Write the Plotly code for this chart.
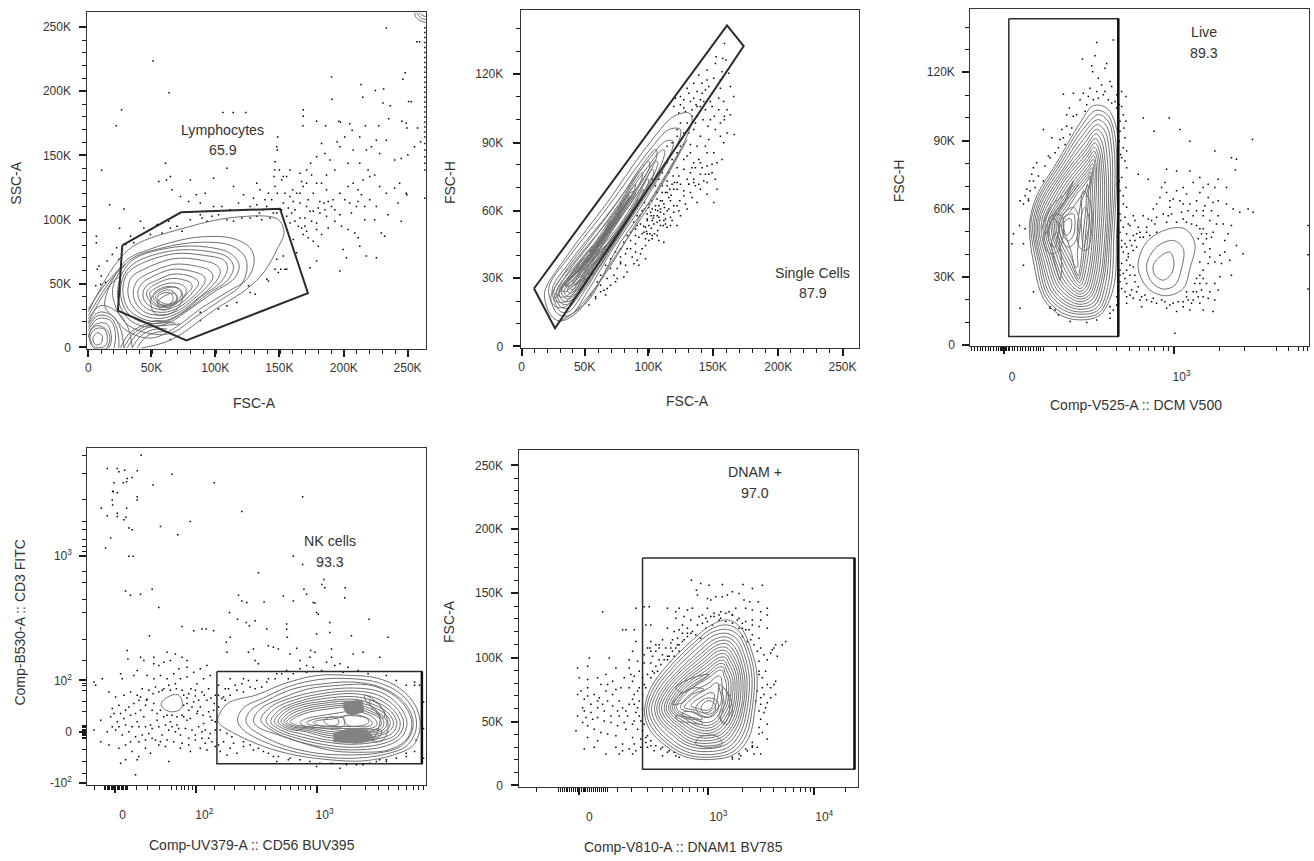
import plotly.graph_objects as go

# All data are in FlowJo style display channels (0-1024 on each axis).
# ---------- Panel 1 : FSC-A / SSC-A ----------
P1_XTICKS = [3, 193, 385, 578, 772, 964]
P1_XLABELS = ["0", "50K", "100K", "150K", "200K", "250K"]
P1_YTICKS = [4, 197, 389, 584, 779, 972]
P1_YLABELS = ["0", "50K", "100K", "150K", "200K", "250K"]
P1_GATE = [(105,312),(282,412),(580,423),(664,168),(298,25),(92,115),(105,312)]
P1_CONTOURS = [
 [(3,112),(82,252),(142,312),(282,362),(442,397),(572,392),(592,352),(572,302),(532,232),(482,182),(382,117),(252,27),(162,2)],
 [(112,262),(192,302),(332,337),(442,332),(492,302),(502,262),(482,212),(422,172),(342,122),(262,62),(192,32),(122,52),(82,92),(52,132),(112,262)],
 [(127,267),(227,305),(347,322),(437,310),(475,277),(480,237),(462,192),(402,147),(327,97),(252,47),(182,47),(122,72),(87,122),(77,187),(127,267)],
 [(142,272),(262,307),(362,307),(432,287),(457,252),(442,212),(382,172),(312,122),(242,77),(172,67),(122,92),(92,152),(102,222),(142,272)],
 [(147,262),(262,297),(357,295),(422,277),(440,247),(422,207),(362,165),(297,115),(232,80),(167,80),(122,107),(100,162),(110,222),(147,262)],
 [(152,252),(262,287),(352,282),(412,267),(422,242),(402,202),(342,157),(282,107),(222,82),(162,92),(122,122),(107,172),(117,222),(152,252)],
 [(170,240),(260,272),(340,268),(392,250),(400,228),(380,195),(330,150),(280,112),(225,92),(170,100),(135,130),(122,170),(132,215),(170,240)],
 [(185,228),(260,255),(325,250),(370,235),(378,215),(360,188),(320,150),(278,118),(228,102),(178,108),(148,135),(138,170),(150,205),(185,228)],
 [(190,215),(255,240),(310,235),(350,220),(355,205),(340,180),(310,150),(270,122),(230,110),(185,118),(160,140),(152,172),(165,198),(190,215)],
 [(205,205),(255,225),(300,222),(330,208),(335,195),(320,175),(298,150),(265,128),(232,118),(195,125),(172,145),(168,172),(180,192),(205,205)],
 [(205,195),(250,212),(290,208),(312,198),(315,185),(302,168),(285,150),(260,132),(232,124),(205,130),(185,148),(178,170),(190,185),(205,195)],
 [(200,180),(245,198),(280,195),(295,185),(298,172),(290,158),(270,140),(248,130),(225,128),(205,136),(192,150),(188,168),(200,180)],
 [(205,172),(240,188),(268,184),(282,175),(282,160),(270,145),(250,134),(228,132),(210,140),(198,155),(205,172)],
 [(212,165),(240,178),(258,172),(270,160),(268,148),(252,136),(232,136),(215,145),(205,155),(212,165)],
 [(210,155),(228,168),(250,168),(258,155),(255,142),(240,132),(222,132),(212,142),(210,155)],
 [(192,152),(232,182),(272,184),(287,162),(272,122),(237,102),(202,107),(192,152)],
 [(212,142),(237,162),(262,167),(270,147),(252,127),(232,117),(217,122),(212,142)],
 [(17,32),(32,49),(45,37),(42,17),(25,12),(17,32)],
 [(8,35),(25,60),(50,60),(60,35),(55,10),(25,4),(8,35)],
 [(3,35),(15,62),(35,70),(60,55),(68,30),(60,3)],
 [(5,45),(28,75),(58,75),(72,40),(65,5),(20,2),(5,45)],
 [(3,55),(30,90),(70,85),(85,40),(80,2)],
 [(3,65),(32,100),(72,92),(92,50),(95,3)],
 [(3,75),(35,110),(75,100),(100,60),(110,3)],
 [(3,90),(40,130),(85,115),(120,70),(135,3)],
 [(100,3),(125,45),(165,70),(205,85),(250,80)],
 [(110,3),(135,42),(175,68),(218,78),(265,78)],
 [(120,3),(145,40),(185,65),(230,70),(280,75)],
 [(135,3),(160,38),(198,58),(240,60)],
 [(150,3),(175,35),(210,50),(250,50)],
 [(3,100),(45,170),(85,225),(112,255)],
 [(3,80),(40,150),(75,200),(100,220)],
 [(3,120),(50,190),(95,240)],
 [(985,1016),(990,1000),(1005,990),(1019,985)],
 [(992,1016),(998,1005),(1008,997),(1019,994)],
 [(1000,1016),(1005,1009),(1019,1003)],
]
P1_DOTS = [(900,969),(957,834),(950,814),(735,821),(736,754),(824,798),(829,760),(867,780),(892,785),(890,742),(912,734),(907,695),(967,747),(975,746),(992,927),(1000,927),(198,869),(246,773),(103,722),(87,674),(43,539),(67,435),(110,422),(97,364),(27,340),(27,320),
(650,722),(650,702),(649,674),(690,687),(717,674),(757,687),(762,684),(790,680),(797,660),(837,674),(877,674),(947,687),(960,682),(962,667),(994,667),(408,714),(439,714),(477,714),
(573,640),(572,600),(570,610),(565,565),(564,540),(562,520),(578,540),(590,520),(610,540),(640,530),(645,505),(660,500),(672,560),(690,580),(705,620),(715,590),(730,570),(745,540),(760,610),(785,560),(800,600),(820,560),(845,540),(855,610),(880,590),(900,630),(925,570),(945,575),(965,585),(985,610),(1003,625),(820,640),(840,600),(870,630),(775,640),(752,625),
(235,560),(250,520),(238,510),(215,505),(255,480),(310,510),(280,460),(328,465),(355,470),(380,515),(420,545),(440,490),(470,465),(510,500),(500,455),(520,480),(545,470),(555,450),(565,490),(585,510),(600,520),(618,480),(630,470),(650,490),(665,450),(680,470),(700,445),(720,480),(735,430),(760,470),(785,490),(800,500),(815,480),(830,510),(850,520),(865,525),(880,490),(900,470),(925,485),(940,500),(960,470),(815,445),(825,465),(850,450),(870,430),(905,405),(935,440),(962,465),(795,410),(760,405),(745,420),(720,400),(712,440),(700,410),(690,380),(670,415),(655,395),(640,440),(620,445),(605,425),(590,440),(572,470),(535,450),(510,435),(490,430),(455,440),(430,420),(405,430),(380,430),(340,440),(305,445),
(600,400),(615,410),(625,420),(640,395),(655,370),(675,385),(690,360),(705,345),(725,365),(745,385),(765,370),(785,360),(805,350),(835,390),(865,390),(885,350),(945,385),(895,340),(770,300),(780,275),(815,335),(820,310),(840,280),(870,275),(760,235),(690,265),(670,245),(630,290),(620,330),(605,350),(590,280),(570,270),(565,240),(575,230),(582,240),(595,240),(600,240),(545,205),(540,210),(505,165),(490,170),(485,190),(450,140),(420,130),(395,120),(340,85),(250,28),(340,110),
(160,385),(170,365),(190,345),(210,375),(225,350),(245,385),(250,365),(270,370),(285,355),(310,390),(340,405),(345,395),(360,385),(375,400),(395,405),(420,390),(440,385),(465,395),(490,395),(510,400),(525,390),(550,395),(570,410),(610,380),(30,240),(35,250),(42,220),(60,265),(75,285),(95,270),(40,195),(25,190),(55,200),(88,305),(115,315),(140,320),(130,340),
(660,430),(680,415),(695,425),(640,470),(610,460),(595,470),(585,420),(560,410),(540,430),(530,420),(518,410),(625,385),(635,370),(650,345),(665,335),(680,325),(695,310),(660,355),(645,365),(715,420),(725,445),(740,450),(775,450),(790,440),(810,430),(835,430),(720,525),(705,500),(675,525),(690,500),(660,540)]
P1_EDGE = [(1016,540),(1016,560),(1016,580),(1016,600),(1016,620),(1016,640),(1016,655),(1016,670),(1016,685),(1016,700),(1016,715),(1016,730),(1016,745),(1016,760),(1016,775),(1016,790),(1016,805),(1016,820),(1016,835),(1016,850),(1016,865),(1016,880),(1016,895),(1016,910),(1016,925),(1016,940),(1016,955),(1016,970),(1016,455)]

# ---------- Panel 2 : FSC-A / FSC-H ----------
P2_XTICKS = [3, 192, 384, 577, 774, 967]
P2_XLABELS = ["0", "50K", "100K", "150K", "200K", "250K"]
P2_YTICKS = [5, 212, 415, 620, 828]
P2_YLABELS = ["0", "30K", "60K", "90K", "120K"]
P2_GATE = [(40,180),(620,975),(670,912),(103,60),(40,180)]
P2_CONTOURS = [
 [(75,180),(140,280),(260,440),(380,610),(460,700),(505,710),(515,695),(495,630),(400,460),(300,320),(230,190),(160,100),(115,82),(90,100),(72,150),(75,180)],
 [(85,185),(145,275),(265,430),(385,595),(445,660),(478,662),(480,640),(445,570),(370,440),(280,305),(200,170),(150,100),(115,100),(95,130),(85,185)],
 [(95,180),(155,270),(270,415),(385,570),(435,625),(458,625),(455,600),(420,530),(350,420),(265,290),(190,170),(145,110),(120,110),(102,140),(95,180)],
 [(100,175),(165,265),(275,400),(380,545),(420,595),(432,598),(428,570),(395,500),(330,395),(250,270),(180,165),(140,120),(120,125),(105,150),(100,175)],
 [(108,175),(175,262),(280,385),(370,515),(405,565),(412,562),(405,535),(370,465),(310,370),(235,255),(172,160),(140,132),(122,135),(110,155),(108,175)],
 [(115,172),(185,258),(285,375),(365,490),(395,540),(400,530),(385,500),(350,435),(295,350),(225,240),(168,160),(142,140),(125,145),(115,172)],
 [(122,172),(195,255),(290,362),(355,465),(382,512),(385,505),(368,470),(330,410),(280,332),(215,228),(165,165),(142,148),(130,155),(122,172)],
 [(130,172),(205,252),(290,350),(345,440),(368,480),(368,472),(350,440),(310,385),(265,312),(205,218),(162,168),(145,155),(135,160),(130,172)],
 [(140,175),(215,250),(285,335),(335,415),(352,450),(350,440),(330,405),(290,355),(250,295),(195,210),(160,172),(148,165),(140,175)],
 [(150,178),(220,240),(280,320),(325,390),(338,420),(335,412),(310,375),(270,330),(235,275),(185,205),(160,178),(150,178)],
 [(160,190),(225,230),(270,300),(310,365),(322,390),(315,380),(285,340),(250,305),(218,255),(175,205),(160,190)],
 [(175,200),(225,255),(275,325),(305,365),(300,360),(265,320),(228,280),(195,235),(175,200)],
 [(165,225),(215,280),(265,350),(320,430),(345,470),(330,470),(290,400),(250,345),(205,285),(170,245),(165,225)],
 [(135,185),(185,250),(240,330),(300,415),(330,460),(320,440),(280,375),(235,310),(185,235),(150,190),(135,185)],
 [(90,150),(130,225),(200,320),(290,440),(370,560),(405,600),(410,585),(365,490),(295,385),(225,275),(170,170),(135,125),(105,125),(90,150)],
 [(100,145),(140,225),(205,310),(285,420),(355,530),(385,565),(388,550),(345,470),(280,370),(215,265),(165,175),(135,140),(112,140),(100,145)],
 [(112,160),(150,225),(210,300),(280,405),(340,500),(365,530),(365,515),(325,445),(265,355),(205,255),(160,180),(135,155),(118,155),(112,160)],
 [(122,175),(160,230),(215,290),(275,390),(325,470),(345,495),(342,480),(305,420),(250,340),(195,245),(155,190),(135,170),(122,175)],
 [(132,190),(170,235),(220,290),(270,375),(310,445),(325,465),(320,450),(285,395),(238,325),(185,240),(155,205),(138,190),(132,190)],
 [(145,205),(180,245),(225,295),(265,360),(295,415),(305,435),(298,420),(265,370),(225,310),(178,240),(155,220),(145,205)],
 [(158,215),(190,255),(230,300),(260,345),(275,380),(265,360),(230,305),(190,250),(165,225),(158,215)],
 [(205,290),(240,335),(270,385),(262,365),(232,320),(205,290)],
 [(120,82),(200,140),(260,240),(320,330),(380,420),(440,520),(500,630)],
 [(160,105),(230,190),(290,280),(360,400),(410,480),(480,600)],
 [(175,240),(225,305),(280,380),(335,460)],
 [(210,260),(255,325),(300,395)],
 [(155,200),(205,270),(255,340),(300,400)],
 [(105,150),(160,235),(210,300)],
]
P2_DOTS = [(612,920),(587,880),(607,875),(617,870),(605,835),(625,830),(640,760),(560,840),(580,815),(565,790),(555,780),(575,770),(595,755),(610,745),(620,720),(630,705),(642,645),(612,700),(600,680),(582,700),(570,690),(550,745),(540,730),(527,735),(510,745),(490,750),(495,715),(480,735),(465,755),(515,700),(530,700),(548,690),(563,670),(585,660),(600,640),(612,690),(620,650),(565,630),(555,610),(540,640),(520,660),(505,650),(490,615),(510,590),(530,610),(560,590),(580,590),(590,560),(610,620),(605,570),(575,530),(560,550),(535,570),(520,560),(500,580),(480,610),(470,590),(455,570),(445,530),(470,545),(490,540),(510,530),(540,525),(560,500),(585,510),(590,480),(580,440),(560,465),(540,480),(520,500),(500,510),(480,495),(460,480),(440,490),(425,470),(410,450),(430,435),(450,445),(470,430),(490,460),(510,470),(530,440),(500,420),(480,400),(460,410),(440,415),(420,420),(400,400),(385,425),(372,440),(410,380),(430,385),(450,370),(470,370),(395,340),(415,325),(430,320),(385,325),(370,350),(350,370),(355,335),(375,310),(365,300),(380,345),(345,340),(330,325),(345,315),(360,285),(375,270),(345,290),(320,300),(335,275),(300,275),(315,250),(340,255),(355,250),(320,230),(300,255),(290,240),(270,240),(280,220),(310,215),(350,265),(290,210),(270,190),(285,200),(260,210),(240,190),(225,155),(250,175),(260,180),(205,130),(225,150),(240,170),(255,160),(210,160),(420,370),(435,390),(450,395),(380,390),(390,410),(412,415),(360,375),(585,860),(600,810),(630,790),(540,750),(515,720),(480,680),(470,640),(455,620),(440,610),(470,660),(530,775),(545,800),(560,810),(500,680),(525,680),(490,650),(510,615),(440,560),(425,530),(415,510),(405,490),(395,510),
(540,560),(525,545),(545,545),(515,545),(490,570),(565,525),(550,505),(525,490),(505,495),(470,500),(455,495),(440,470),(420,445),(405,430),(395,420),(380,405),(365,415),(350,400),(340,380),(375,365),(395,385),(415,395),(435,375),(455,385),(475,415),(495,435),(515,455),(535,495),(555,525),(575,555),
(385,370),(392,362),(400,375),(378,352),(388,345),(370,368),(398,392),(410,400),(420,410),(432,425),(445,455),(452,462),(405,418),(415,430),(425,445),(435,470),(448,480),(462,500),(475,520),(380,385),(392,400),(402,345),(412,355),(375,330),(365,345),(395,330),(410,340),(428,370),(440,365),(430,405),(418,385),(445,420),(460,430),(478,445),(490,475),(505,495),(520,510),(470,480),(458,520),(440,505),(425,490),(410,470),(395,445),(385,435),(372,420),(358,400),(345,360),(330,350),(320,340),(310,320),(300,300),(285,290),(270,270),(255,250),(240,220),(230,200),(330,300),(315,285),(300,260),
(500,785),(520,755),(545,770),(520,800),(535,825),(570,745),(595,720),(600,785),(530,730),(555,720),(575,730),(505,770),(480,760),(460,730),(475,710),(490,725)]

# ---------- Panel 3 : DCM V500 / FSC-H ----------
P3_XTICKS = [102, 611]
P3_XLABELS = ["0", "10<sup>3</sup>"]
P3_XMINOR = [5,14,22,30,38,46,54,62,70,78,86,90,94,98,106,110,114,118,126,134,142,150,158,166,174,182,190,198,206,212,220,221,260,290,320,380,440,480,510,535,555,580,595,748,825,920,955,985,1000,1012]
P3_YTICKS = [5, 210, 415, 621, 829]
P3_YLABELS = ["0", "30K", "60K", "90K", "120K"]
P3_GATE = [(116,990),(445,990),(445,30),(116,30),(116,990)]
P3_GATE_EDGE = [(445,990),(445,30)]
P3_CONTOURS = [
 [(180,385),(200,455),(260,555),(330,675),(370,727),(410,720),(438,665),(445,545),(440,345),(430,175),(390,95),(330,80),(270,95),(220,145),(190,255),(178,345),(180,385)],
 [(184,385),(205,452),(264,550),(332,662),(377,713),(412,700),(434,642),(440,522),(432,342),(422,182),(388,102),(330,88),(275,102),(226,150),(198,255),(183,345),(184,385)],
 [(190,385),(210,450),(268,545),(335,650),(385,700),(415,680),(430,620),(435,500),(425,340),(415,190),(385,110),(330,97),(280,110),(232,155),(205,255),(188,345),(190,385)],
 [(195,385),(215,447),(271,537),(337,637),(383,685),(410,665),(424,605),(428,490),(420,340),(407,192),(380,117),(330,104),(284,117),(238,160),(210,257),(193,342),(195,385)],
 [(200,385),(220,445),(275,530),(340,625),(382,670),(405,650),(418,590),(422,480),(415,340),(400,195),(375,125),(330,112),(288,125),(245,165),(215,260),(198,340),(200,385)],
 [(205,385),(226,442),(278,525),(342,612),(380,656),(400,635),(411,575),(416,475),(410,340),(395,200),(370,132),(330,120),(291,132),(251,170),(221,262),(203,340),(205,385)],
 [(210,385),(232,440),(282,520),(345,600),(378,642),(395,620),(405,560),(410,470),(405,340),(390,205),(365,140),(330,127),(295,140),(258,175),(228,265),(208,340),(210,385)],
 [(216,385),(238,437),(286,515),(346,590),(376,628),(391,605),(400,550),(404,465),(398,340),(384,210),(361,148),(330,135),(298,148),(263,182),(234,267),(214,340),(216,385)],
 [(222,385),(245,435),(290,510),(348,580),(375,615),(388,590),(395,540),(398,460),(392,340),(378,215),(358,155),(330,143),(302,155),(268,190),(240,270),(220,340),(222,385)],
 [(228,385),(251,432),(294,502),(349,570),(373,602),(385,577),(390,530),(391,455),(386,340),(373,222),(354,162),(330,150),(305,162),(273,197),(245,275),(226,340),(228,385)],
 [(235,385),(258,430),(298,495),(350,560),(372,590),(382,565),(385,520),(385,450),(380,340),(368,230),(350,170),(330,158),(308,170),(278,205),(250,280),(232,340),(235,385)],
 [(240,385),(263,427),(301,487),(351,550),(371,577),(378,552),(380,510),(378,445),(374,340),(363,237),(346,177),(330,166),(311,177),(283,215),(256,285),(238,340),(240,385)],
 [(245,385),(268,425),(305,480),(352,540),(370,565),(375,540),(375,500),(372,440),(368,340),(358,245),(342,185),(330,175),(315,185),(288,225),(262,290),(245,340),(245,385)],
 [(250,382),(273,422),(308,475),(352,530),(368,552),(370,527),(368,490),(366,435),(361,340),(351,252),(338,195),(329,183),(316,195),(293,235),(266,295),(250,342),(250,382)],
 [(255,380),(278,420),(312,470),(352,520),(366,540),(366,515),(362,480),(360,430),(355,340),(345,260),(335,205),(328,192),(318,205),(298,245),(270,300),(255,345),(255,380)],
 [(260,380),(284,416),(316,465),(352,510),(363,527),(362,502),(356,470),(354,425),(347,342),(340,267),(331,215),(326,202),(318,215),(301,255),(275,307),(260,347),(260,380)],
 [(265,380),(290,412),(320,460),(352,500),(360,515),(358,490),(350,460),(348,420),(340,345),(335,275),(328,225),(325,212),(318,225),(305,265),(280,315),(266,350),(265,380)],
 [(270,375),(300,408),(330,450),(350,480),(352,490),(345,465),(335,440),(335,400),(328,340),(322,280),(322,240),(315,240),(305,280),(290,325),(275,355),(270,375)],
 [(268,368),(285,405),(310,420),(325,395),(325,350),(315,315),(295,300),(278,315),(268,368)],
 [(275,370),(290,395),(310,400),(315,370),(310,335),(295,318),(282,330),(275,370)],
 [(280,370),(292,385),(302,385),(305,365),(300,345),(290,335),(284,345),(280,370)],
 [(235,350),(250,385),(265,370),(262,330),(255,300),(240,310),(235,350)],
 [(225,350),(245,395),(275,395),(280,340),(265,290),(240,280),(222,310),(225,350)],
 [(335,400),(345,420),(358,380),(352,340),(340,300),(335,340),(335,400)],
 [(330,420),(340,470),(362,430),(365,350),(350,290),(328,300),(322,360),(330,420)],
 [(245,320),(260,345),(270,300),(275,240),(270,200),(262,225),(250,270),(245,320)],
 [(215,355),(245,425),(290,465),(310,500),(280,430),(250,385)],
 [(228,340),(260,410),(300,455),(325,490)],
 [(505,255),(530,315),(590,353),(645,355),(675,310),(660,235),(640,175),(590,153),(540,170),(510,215),(505,255)],
 [(530,245),(560,300),(610,320),(640,295),(635,235),(615,185),(580,173),(545,195),(530,245)],
 [(550,245),(575,275),(600,285),(612,255),(605,220),(580,200),(555,215),(550,245)],
]
P3_DOTS = [(380,918),(430,926),(337,868),(375,878),(365,848),(368,830),(410,855),(405,840),(420,800),(385,810),(395,790),(360,780),(340,765),(330,745),(355,755),(380,770),(405,770),(425,785),(440,760),(455,770),(468,755),(445,740),(425,735),(310,765),(280,762),(298,720),(310,695),(290,700),(275,655),(300,640),(220,655),(245,630),(285,610),(235,575),(200,555),(190,540),(240,570),(175,445),(180,470),(195,480),(220,500),(150,440),(175,440),(148,365),(165,355),(130,340),(160,310),(125,310),(160,245),(190,165),(150,115),(240,115),(265,95),(380,80),(420,100),(445,135),(420,120),
(448,730),(460,700),(468,680),(450,650),(465,630),(470,590),(455,570),(470,540),(455,510),(468,480),(445,440),(470,420),(490,395),(465,390),(450,400),(475,370),(505,360),(495,380),(520,395),(550,415),(560,430),(600,440),(520,690),(552,650),(598,690),(630,655),(660,620),(735,590),(785,570),(800,565),(848,625),(797,533),(735,480),(620,530),(590,535),(505,520),(535,505),(585,495),(640,480),(660,530),(670,495),(690,510),(700,480),(715,490),(745,505),(770,480),(715,450),(690,465),(650,460),(630,440),(610,445),(590,465),(570,450),(660,430),(680,440),(705,425),(725,410),(745,440),(770,430),(790,415),(810,405),(835,415),(850,405),(745,395),(700,395),(720,380),(740,370),(700,355),(760,370),(785,365),(775,340),(765,320),(800,305),(730,345),(710,340),(690,355),(680,365),(650,375),(620,375),(590,375),(555,370),(530,360),(510,330),(490,335),(480,320),(465,310),(450,345),(455,300),(475,280),(490,290),(500,300),(470,260),(480,245),(460,220),(450,195),(445,170),(470,190),(485,170),(495,195),(505,180),(490,145),(515,150),(530,140),(550,145),(585,135),(590,115),(620,105),(640,120),(660,110),(690,130),(700,110),(730,105),(685,150),(670,165),(650,150),(675,190),(695,170),(710,190),(735,190),(745,170),(735,140),(700,230),(690,255),(715,250),(735,255),(755,250),(720,295),(700,310),(685,325),(750,210),(785,215),(820,280),(615,40),(515,120),(470,130),(470,150),(1015,365),(1015,277),(1015,173),(540,335),(560,345),(500,340),(520,330),(595,395),(635,405),(670,395),(725,330),(765,285),(750,275),(780,260),
(452,380),(460,360),(470,340),(480,365),(455,320),(470,300),(485,305),(495,320),(510,345),(530,345),(545,380),(460,285),(475,270),(455,250),(470,230),(490,240),(450,230),(450,215),(465,205),(480,215),(495,215),(455,175),(465,165),(480,155),(500,165),(510,140),(525,155),(545,135),(560,130),(575,140),(600,125),(610,130),(625,135),(640,135),(655,140),(670,140),(680,165),(690,190),(680,205),(690,215),(700,205),(665,130),(650,165),(700,150),(715,145),(720,165),(705,285),(720,270),(710,325),(695,340),(665,370),(640,385),(605,400),(580,400),(560,390),(535,385),(600,420),(655,410),(680,410),(700,410),(730,435),(620,470),(575,480),(640,430),
(400,760),(415,745),(385,750),(370,745),(350,730),(345,710),(435,740),(440,720),(455,725),(450,680),(462,660),(448,620),(460,600),(452,580),(465,560),(448,500),(450,470),(460,455),(460,430),(320,700),(305,660),(290,665),(280,630),(265,600),(255,585),(225,545),(205,515),(190,500),(170,475),(165,455),(160,430),(178,500),(185,520),(270,625),(240,120),(255,110),(300,75),(350,72),(420,85),(430,110),(440,125),(440,150),(445,190)]

# ---------- Panel 4 : CD56 BUV395 / CD3 FITC ----------
P4_XTICKS = [82, 328, 690]
P4_XLABELS = ["0", "10<sup>2</sup>", "10<sup>3</sup>"]
P4_XMINOR = [20,52,56,60,64,68,72,76,80,90,94,98,102,106,110,114,118,120,147,182,217,252,267,282,292,304,316,382,442,502,537,582,612,635,657,672,762,837,877,907,937,962,982,997,1012]
P4_YTICKS = [5, 160, 315, 690]
P4_YLABELS = ["-10<sup>2</sup>", "0", "10<sup>2</sup>", "10<sup>3</sup>"]
P4_YMINOR = [35,70,105,140,144,148,152,156,164,168,172,176,180,220,250,285,300,305,375,440,520,560,610,645,705,720,740,770,795,860,940,995]
P4_GATE = [(390,342),(1007,342),(1007,63),(390,63),(390,342)]
P4_GATE_EDGE = [(1007,342),(1007,63)]
P4_BLOB = [(222,245),(242,265),(272,272),(285,255),(282,230),(257,220),(232,228),(222,245)]
P4_CONTOURS = [
 P4_BLOB,
 [(392,195),(422,245),(512,272),(592,305),(692,330),(792,330),(872,322),(942,290),(987,240),(1002,180),(982,120),(922,90),(832,72),(732,75),(622,90),(532,115),(452,150),(402,180),(392,195)],
 [(452,195),(470,232),(530,262),(608,297),(700,318),(797,320),(877,308),(942,275),(982,225),(990,170),(962,118),(897,92),(807,80),(712,84),(612,102),(532,130),(470,165),(452,195)],
 [(477,195),(492,225),(542,255),(622,290),(712,305),(802,310),(882,295),(942,260),(977,210),(977,160),(942,115),(872,95),(782,90),(692,95),(602,115),(532,145),(487,175),(477,195)],
 [(500,195),(522,230),(582,260),(668,290),(757,300),(842,302),(910,278),(958,235),(977,185),(962,138),(907,105),(832,98),(742,102),(660,122),(582,148),(512,175),(500,195)],
 [(522,195),(552,235),(622,265),(712,285),(802,292),(882,280),(937,240),(962,190),(947,145),(892,115),(792,105),(702,115),(622,135),(562,160),(522,195)],
 [(538,192),(565,230),(627,257),(712,276),(802,283),(877,270),(930,232),(952,188),(937,148),(882,122),(792,113),(707,122),(632,140),(572,162),(538,192)],
 [(552,190),(577,225),(632,250),(712,268),(802,275),(872,260),(922,225),(942,185),(927,150),(872,130),(792,122),(712,130),(642,145),(582,165),(552,190)],
 [(563,190),(587,222),(637,245),(712,260),(802,266),(867,251),(915,220),(932,185),(917,155),(867,137),(792,130),(717,136),(650,152),(592,168),(563,190)],
 [(574,190),(597,220),(642,240),(712,252),(802,258),(862,242),(907,215),(922,185),(907,160),(862,145),(792,138),(722,143),(657,160),(602,170),(574,190)],
 [(583,190),(605,216),(650,235),(712,246),(792,252),(857,236),(900,210),(912,185),(898,162),(857,150),(792,145),(725,149),(662,164),(610,172),(583,190)],
 [(592,190),(612,212),(657,230),(712,240),(792,245),(852,230),(892,205),(902,185),(890,165),(852,155),(792,152),(727,155),(667,168),(617,175),(592,190)],
 [(600,190),(622,208),(663,225),(716,234),(790,240),(847,225),(885,203),(893,185),(882,167),(847,160),(790,157),(728,161),(671,171),(623,177),(600,190)],
 [(610,190),(630,205),(670,220),(720,228),(790,235),(842,220),(878,202),(885,185),(875,170),(842,165),(790,162),(730,168),(675,175),(630,180),(610,190)],
 [(640,188),(660,200),(700,208),(745,215),(800,222),(850,210),(868,195),(872,182),(860,172),(800,170),(745,170),(695,172),(650,178),(640,188)],
 [(660,188),(680,197),(715,203),(760,205),(800,212),(845,200),(858,185),(845,176),(800,176),(745,176),(700,178),(665,182),(660,188)],
 [(680,188),(700,195),(735,198),(770,202),(775,188),(770,176),(735,175),(700,178),(680,188)],
 [(772,205),(807,208),(842,200),(847,188),(822,178),(782,180),(772,205)],
 [(712,192),(732,205),(752,200),(757,185),(732,178),(712,192)],
 [(850,255),(880,240),(900,205),(905,170),(890,135),(860,130),(875,165),(880,205),(855,235),(850,255)],
 [(835,270),(870,250),(895,215),(890,200),(870,225),(840,250),(835,270)],
 [(860,165),(885,165),(880,145),(860,140),(840,135),(860,165)],
]
P4_FILLS = [
 [(772,250),(827,255),(832,220),(812,215),(782,215),(772,230),(772,250)],
 [(742,155),(792,170),(842,165),(867,135),(812,125),(742,130),(742,155)],
]
P4_DOTS = [(162,995),(90,955),(60,955),(95,945),(112,950),(150,948),(120,925),(135,928),(80,912),(108,912),(118,915),(198,905),(255,938),(382,912),(648,870),(465,825),(310,795),(42,835),(60,812),(90,820),(76,886),(78,885),(90,882),(76,845),(75,860),(118,835),(116,808),(90,810),(110,800),(150,860),(150,870),(125,775),(135,770),(220,780),(272,755),(70,745),(55,715),(125,690),(138,690),(620,690),(648,665),(515,640),(712,620),(706,605),(776,595),(652,590),(660,575),(715,595),(115,585),(130,572),(160,575),(195,590),(455,572),(465,555),(590,570),(532,552),(480,550),(620,555),(680,550),(685,548),(215,535),(428,520),(452,500),(478,490),(505,495),(600,485),(690,520),(695,515),(730,490),(775,565),(187,450),(285,478),(320,465),(345,470),(380,465),(358,470),(430,445),(488,480),(540,470),(600,470),(602,445),(905,445),(848,500),(690,455),(730,460),(795,450),(735,410),(685,400),(672,405),(630,412),(545,420),(560,415),(575,410),(418,430),(485,400),(500,410),(265,395),(120,405),(160,385),(122,380),(200,385),(240,400),(285,385),(300,375),(420,400),(505,375),(515,365),(610,395),(640,375),(660,360),(670,385),(720,370),(735,385),(760,365),(800,395),(830,400),(880,385),(45,320),(20,310),(25,300),(100,335),(105,320),(150,345),(170,375),(200,365),(215,360),(230,370),(250,375),(275,350),(300,355),(320,340),(340,350),(360,360),(140,330),(180,330),(200,320),(220,330),(240,320),(260,335),(280,320),(300,325),(330,305),(350,320),(370,330),(395,300),(415,290),(430,320),(470,320),(490,295),(510,315),(540,310),(570,335),(600,345),(620,335),(660,340),(705,345),(770,340),(65,280),(85,265),(110,270),(130,280),(150,270),(165,290),(185,285),(205,295),(225,285),(245,300),(265,305),(285,285),(305,275),(325,285),(345,280),(365,290),(385,270),(405,260),(430,270),(450,285),(470,280),(75,230),(95,240),(115,225),(140,245),(155,255),(175,240),(195,225),(210,215),(290,240),(305,225),(320,250),(340,235),(360,255),(380,225),(395,235),(415,255),(40,195),(70,205),(90,190),(110,200),(130,210),(150,190),(170,205),(190,180),(210,195),(230,205),(250,190),(270,180),(290,205),(310,200),(330,215),(350,185),(370,205),(385,165),(400,165),(420,155),(435,145),(20,165),(60,160),(85,165),(105,150),(125,160),(145,145),(165,150),(185,155),(205,135),(225,150),(245,165),(265,160),(285,125),(305,140),(325,135),(345,160),(365,140),(410,130),(440,125),(470,115),(500,105),(530,100),(560,85),(40,130),(65,120),(95,110),(115,120),(135,100),(155,85),(175,110),(190,95),(215,120),(235,115),(245,70),(100,65),(115,75),(150,75),(145,30),(395,120),(400,100),(420,90),(430,110),(450,95),(570,70),(605,75),(690,55),(760,50),(810,60),(850,65),(880,75),(900,70),(930,80),(960,85),(985,100),(990,135),(985,300),(960,300),(930,315),(900,330),(1012,250),(1012,170),(1012,80),
(160,265),(178,255),(198,275),(215,280),(230,290),(250,285),(268,290),(290,270),(300,262),(312,290),(325,268),(335,255),(352,270),(372,262),(382,245),(300,245),(315,235),(332,222),(348,210),(365,220),(375,195),(385,190),(300,195),(285,210),(270,205),(255,210),(240,210),(220,225),(200,245),(180,258),(160,225),(145,215),(125,235),(100,215),(80,215),(75,175),(95,175),(115,180),(135,175),(155,175),(175,175),(195,170),(215,175),(235,180),(255,175),(275,170),(295,170),(315,165),(335,175),(355,165),(370,155),(345,140),(325,150),(305,120),(280,150),(260,130),(240,135),(220,130),(195,140),(175,135),(155,130),(130,130),(355,125),(375,130),(385,115),(360,105),(340,110),(310,100),(280,110),(395,270),(410,265),(425,290),(445,300),(465,305),(485,315),(505,290),(525,295),(545,320),(565,320),(585,335),(605,320),(640,350),(680,355),(745,360),(785,355),(815,345),(845,335),(470,130),(490,120),(515,110),(545,95),(575,85),(610,80),(640,75),(670,70),(700,65),(735,65),(780,60),(830,60),(870,70),(900,75),(960,95),(985,310),(1000,300)]

# ---------- Panel 5 : DNAM1 BV785 / FSC-A ----------
P5_XTICKS = [180, 568, 886]
P5_XLABELS = ["0", "10<sup>3</sup>", "10<sup>4</sup>"]
P5_XMINOR = [52,116,117,122,128,134,140,146,152,158,164,170,176,186,192,193,196,200,206,212,218,224,230,236,242,248,254,258,264,265,294,336,384,429,461,489,512,534,554,669,724,764,799,824,844,859,874,979]
P5_YTICKS = [5, 198, 391, 586, 781, 972]
P5_YLABELS = ["0", "50K", "100K", "150K", "200K", "250K"]
P5_GATE = [(370,692),(1007,692),(1007,54),(370,54),(370,692)]
P5_GATE_EDGE = [(1007,692),(1007,54)]
P5_CONTOURS = [
 [(376,228),(394,298),(444,368),(524,448),(574,488),(624,505),(664,483),(699,408),(714,338),(709,248),(689,148),(644,98),(564,83),(494,93),(429,133),(389,178),(376,228)],
 [(382,230),(401,295),(449,360),(529,440),(579,479),(625,490),(661,470),(694,398),(706,333),(701,248),(681,155),(639,105),(564,90),(496,100),(436,138),(396,183),(382,230)],
 [(389,233),(409,293),(454,353),(534,433),(584,470),(626,476),(659,458),(689,388),(699,328),(694,248),(674,163),(634,113),(564,98),(499,108),(444,143),(404,188),(389,233)],
 [(397,235),(416,290),(461,348),(539,423),(586,459),(625,464),(655,445),(682,380),(691,323),(686,248),(667,170),(629,121),(564,107),(501,117),(451,150),(411,193),(397,235)],
 [(406,238),(424,288),(469,343),(544,413),(589,448),(624,453),(652,433),(676,373),(684,318),(679,248),(661,178),(624,130),(564,116),(504,126),(459,158),(419,198),(406,238)],
 [(413,239),(431,286),(474,339),(547,404),(590,438),(623,443),(648,421),(670,367),(678,315),(673,248),(655,184),(619,137),(564,124),(507,133),(464,164),(425,201),(413,239)],
 [(420,240),(438,285),(480,335),(550,395),(592,428),(622,433),(645,410),(665,362),(672,312),(668,248),(650,190),(615,145),(565,132),(510,140),(470,170),(432,205),(420,240)],
 [(427,240),(445,283),(485,330),(552,386),(593,419),(621,422),(641,400),(660,356),(666,310),(661,248),(645,195),(611,152),(565,140),(514,147),(475,176),(439,208),(427,240)],
 [(435,240),(452,282),(490,325),(555,378),(595,410),(620,412),(638,390),(655,350),(660,308),(655,248),(640,200),(608,160),(565,148),(518,155),(480,182),(446,212),(435,240)],
 [(441,240),(458,280),(495,321),(557,370),(596,400),(619,402),(634,381),(650,344),(654,305),(649,248),(634,205),(604,167),(565,155),(521,162),(485,187),(452,215),(441,240)],
 [(448,240),(465,278),(500,318),(560,362),(598,390),(618,392),(630,372),(645,338),(648,302),(643,248),(628,210),(600,175),(565,162),(525,170),(490,192),(458,218),(448,240)],
 [(454,240),(471,276),(505,314),(562,353),(598,381),(616,382),(626,363),(640,331),(642,298),(636,248),(623,216),(597,182),(565,170),(528,177),(495,198),(464,220),(454,240)],
 [(460,240),(478,275),(510,310),(565,345),(598,372),(614,372),(622,355),(634,325),(636,295),(630,248),(618,222),(594,190),(565,178),(532,185),(500,205),(470,222),(460,240)],
 [(466,240),(484,273),(515,305),(566,337),(598,362),(612,362),(618,346),(628,318),(629,291),(624,249),(612,226),(591,197),(565,186),(535,192),(505,210),(476,225),(466,240)],
 [(472,240),(490,272),(520,300),(568,330),(598,352),(610,352),(614,338),(622,312),(622,288),(618,250),(606,230),(588,205),(565,195),(538,200),(510,215),(482,228),(472,240)],
 [(484,240),(500,268),(530,292),(570,315),(595,335),(605,333),(608,320),(610,298),(608,280),(605,252),(596,238),(580,218),(562,210),(545,214),(520,226),(495,232),(484,240)],
 [(495,240),(512,262),(538,282),(570,300),(590,315),(598,312),(598,295),(596,272),(592,255),(586,240),(572,228),(555,224),(530,232),(508,236),(495,240)],
 [(515,245),(530,262),(552,275),(572,285),(585,282),(585,265),(582,250),(575,236),(558,232),(535,238),(515,245)],
 [(530,240),(560,268),(592,262),(598,235),(575,212),(545,218),(530,240)],
 [(546,240),(564,261),(586,253),(589,233),(569,220),(552,226),(546,240)],
 [(610,300),(630,280),(640,230),(625,190),(605,200),(615,250),(610,300)],
 [(600,310),(622,290),(632,235),(618,195),(600,212),(610,255),(600,310)],
 [(460,250),(490,285),(530,300),(555,295),(520,280),(490,255),(460,250)],
 [(470,215),(500,212),(540,205),(550,190),(510,195),(478,200),(470,215)],
 [(490,225),(530,225),(550,205),(520,205),(495,210),(490,225)],
 [(540,150),(590,155),(610,130),(570,120),(530,130),(540,150)],
 [(470,300),(520,330),(570,340),(530,310),(490,285),(470,300)],
]
P5_DOTS = [(517,625),(545,615),(570,610),(610,612),(672,612),(700,600),(730,610),(532,595),(535,580),(565,570),(575,565),(590,575),(610,575),(625,580),(640,590),(660,585),(675,565),(692,560),(718,560),(745,540),(745,520),(725,530),(700,535),(680,540),(650,540),(630,530),(605,530),(585,525),(565,540),(550,520),(520,540),(505,535),(480,540),(470,530),(445,540),(470,510),(495,515),(515,505),(540,515),(560,510),(575,515),(600,505),(640,520),(660,510),(680,500),(700,505),(725,505),(745,480),(720,485),(700,490),(690,475),(670,480),(505,480),(490,490),(480,475),(465,470),(445,480),(515,465),(530,460),(460,445),(475,430),(455,420),(430,445),(420,430),(395,440),(392,420),(410,410),(430,400),(445,385),(420,385),(400,395),(395,375),(375,375),(400,350),(385,340),(370,330),(410,365),(360,350),(345,335),(355,290),(330,385),(340,410),(350,440),(320,475),(345,475),(375,545),(390,545),(350,540),(380,490),(395,490),(250,530),(310,475),(330,360),(290,360),(270,390),(210,390),(205,365),(175,360),(180,330),(205,325),(235,330),(260,340),(280,320),(305,300),(330,300),(345,280),(360,260),(370,235),(365,200),(350,225),(320,230),(330,250),(300,260),(280,280),(260,290),(240,270),(225,280),(205,300),(185,290),(175,280),(195,265),(215,250),(235,240),(255,230),(275,215),(300,215),(315,195),(340,190),(355,175),(370,170),(385,155),(395,125),(405,110),(425,115),(445,105),(465,105),(430,95),(385,120),(365,120),(345,130),(340,150),(320,175),(295,185),(275,195),(255,200),(235,210),(215,225),(195,230),(175,215),(170,170),(190,195),(205,185),(225,175),(245,165),(265,160),(290,155),(310,130),(290,120),(260,100),(225,120),(195,115),(205,150),(235,140),(300,100),(340,100),(705,100),(725,100),(685,110),(665,95),(715,120),(745,145),(730,165),(720,180),(745,190),(700,125),(710,260),(725,250),(715,290),(735,280),(745,310),(730,330),(720,350),(740,350),(755,300),(765,310),(720,380),(735,400),(745,385),(755,405),(770,320),(745,255),(755,270),(770,280),(775,395),(765,420),(760,415),(800,440),(790,430),(770,430),(720,450),(700,460),(685,440),(670,455),(660,480),(640,495),(620,500),(605,510),(580,490),(560,480),(545,450),(505,465),(490,440),(480,410),(465,395),(445,395),(735,225),(725,205),(720,230),(740,240),(700,120),(660,85),(640,85),
(370,280),(360,300),(340,320),(375,310),(380,300),(395,330),(405,345),(415,350),(425,370),(435,385),(450,395),(460,410),(470,420),(480,430),(495,445),(505,455),(520,470),(535,490),(550,495),(565,500),(585,515),(600,520),(620,525),(640,520),(655,505),(670,495),(680,475),(695,445),(705,430),(715,410),(725,420),(720,340),(730,300),(725,270),(720,160),(700,135),(680,115),(660,100),(640,90),(480,90),(470,95),(450,110),(430,120),(410,125),(395,140),(380,150),(375,190),(360,215),(345,200),(325,215),(310,240),(295,230),(280,245),(265,260),(250,250),(235,260),(220,205),(200,210),(190,240),(205,275),(245,310),(265,310),(290,295),(315,330),(335,340),(355,380),(375,400),(395,410),(385,420),(410,430),(420,420),(440,420),(455,435),(475,450),(490,465),(345,250),(355,240),(340,265),(365,145),(380,135),(350,110),(330,115),(310,110)]

# ---------- Text ----------
LABELS = [
 ("x1", "y1", 407, 662, "Lymphocytes"), ("x1", "y1", 407, 600, "65.9"),
 ("x2", "y2", 877, 227, "Single Cells"), ("x2", "y2", 877, 165, "87.9"),
 ("x3", "y3", 703, 950, "Live"), ("x3", "y3", 702, 887, "89.3"),
 ("x4", "y4", 729, 737, "NK cells"), ("x4", "y4", 729, 672, "93.3"),
 ("x5", "y5", 709, 951, "DNAM +"), ("x5", "y5", 709, 888, "97.0"),
]
X_TITLES = [("FSC-A", 253, 406), ("FSC-A", 687, 404), ("Comp-V525-A :: DCM V500", 1136, 408),
            ("Comp-UV379-A :: CD56 BUV395", 250, 851), ("Comp-V810-A :: DNAM1 BV785", 683, 853)]
Y_TITLES = [("SSC-A", 14, 184), ("FSC-H", 448, 184), ("FSC-H", 898, 182),
            ("Comp-B530-A :: CD3 FITC", 18, 626), ("Comp-V810-A", 0, 0)][:4] + [("FSC-A", 447, 626)]

W, H = 1314, 861
FONT = "Liberation Sans"
TXT = "#333333"
TICKC = "#1a1a1a"


def xy(points_list):
    xs, ys = [], []
    for pts in points_list:
        xs += [p[0] for p in pts] + [None]
        ys += [p[1] for p in pts] + [None]
    return xs, ys


def step(first, size, n):
    return [first + size * i for i in range(n)]


def axis(dom, anchor, rng, tv, tt, minor, shift=0, standoff=0):
    d = dict(
        domain=dom, range=rng, anchor=anchor, showgrid=False, zeroline=False,
        showline=True, mirror=True, linecolor="#333333", linewidth=1,
        ticks="outside", ticklen=7, tickwidth=2, tickcolor=TICKC,
        tickmode="array", tickvals=tv, ticktext=tt,
        tickfont=dict(family=FONT, size=12, color=TXT), tickangle=0,
        minor=dict(ticks="outside", ticklen=4, tickwidth=1, tickcolor=TICKC,
                   tickmode="array", tickvals=minor, showgrid=False),
    )
    if shift:
        d["ticklabelshift"] = shift
    if standoff:
        d["ticklabelstandoff"] = standoff
    return d


def dom_x(l, r):
    return [l / W, r / W]


def dom_y(t, b):
    return [1 - b / H, 1 - t / H]


fig = go.Figure()
PANELS = [
 ("1", P1_CONTOURS, P1_DOTS + P1_EDGE, P1_GATE, None, 2),
 ("2", P2_CONTOURS, P2_DOTS, P2_GATE, None, 2),
 ("3", P3_CONTOURS, P3_DOTS, P3_GATE, P3_GATE_EDGE, 1.5),
 ("4", P4_CONTOURS, P4_DOTS, P4_GATE, P4_GATE_EDGE, 1.5),
 ("5", P5_CONTOURS, P5_DOTS, P5_GATE, P5_GATE_EDGE, 1.5),
]
for n, contours, dots, gate, edge, gate_w in PANELS:
    xa, ya = "x" + n, "y" + n
    fig.add_trace(go.Scatter(x=[p[0] for p in dots], y=[p[1] for p in dots], mode="markers", xaxis=xa, yaxis=ya,
                             marker=dict(symbol="square", size=1.5, color="#000000", line=dict(width=0)),
                             name="Events " + n, showlegend=False, hoverinfo="skip"))
    cx, cy = xy(contours)
    fig.add_trace(go.Scatter(x=cx, y=cy, mode="lines", xaxis=xa, yaxis=ya,
                             line=dict(color="#707070", width=1, shape="spline", smoothing=1.0),
                             name="Contours " + n, showlegend=False, hoverinfo="skip"))
    if n == "4":
        fx, fy = xy(P4_FILLS)
        fig.add_trace(go.Scatter(x=fx, y=fy, mode="lines", xaxis=xa, yaxis=ya, fill="toself", fillcolor="#828282",
                                 line=dict(color="#828282", width=1), showlegend=False, hoverinfo="skip"))
    fig.add_trace(go.Scatter(x=[p[0] for p in gate], y=[p[1] for p in gate], mode="lines", xaxis=xa, yaxis=ya,
                             line=dict(color="#2b2b2b", width=gate_w), name="Gate " + n, showlegend=False, hoverinfo="skip"))
    if edge:
        fig.add_trace(go.Scatter(x=[p[0] for p in edge], y=[p[1] for p in edge], mode="lines", xaxis=xa, yaxis=ya,
                                 line=dict(color="#111111", width=2.5), showlegend=False, hoverinfo="skip"))

annotations = [dict(xref=a, yref=b, x=x, y=y, text=t, showarrow=False, xanchor="center", yanchor="middle",
                    font=dict(family=FONT, size=14.2, color=TXT)) for a, b, x, y, t in LABELS]
annotations += [dict(xref="paper", yref="paper", x=x / W, y=1 - y / H, text=t, showarrow=False, xanchor="center",
                     yanchor="middle", font=dict(family=FONT, size=14, color=TXT)) for t, x, y in X_TITLES]
annotations += [dict(xref="paper", yref="paper", x=x / W, y=1 - y / H, text=t, showarrow=False, textangle=-90,
                     xanchor="center", yanchor="middle", font=dict(family=FONT, size=14, color=TXT)) for t, x, y in Y_TITLES]

fig.update_layout(
    width=W, height=H, margin=dict(l=0, r=0, t=0, b=0), autosize=False,
    paper_bgcolor="white", plot_bgcolor="white", showlegend=False, annotations=annotations,
    xaxis1=axis(dom_x(85.5, 424.5), "y1", [0, 1019], P1_XTICKS, P1_XLABELS, step(41.5, 38.5, 25), 0, 1),
    yaxis1=axis(dom_y(12.5, 351.2), "x1", [0, 1016], P1_YTICKS, P1_YLABELS, step(42.5, 38.7, 25), 0, 6),
    xaxis2=axis(dom_x(519.5, 858.8), "y2", [0, 1018], P2_XTICKS, P2_XLABELS, step(41.5, 38.5, 25), 0, 1),
    yaxis2=axis(dom_y(10.5, 350.5), "x2", [0, 1020], P2_YTICKS, P2_YLABELS, step(73.5, 68.6, 14), 0, 7),
    xaxis3=axis(dom_x(969.7, 1309), "y3", [0, 1018], P3_XTICKS, P3_XLABELS, P3_XMINOR, 8, 12),
    yaxis3=axis(dom_y(9.5, 348.8), "x3", [0, 1018], P3_YTICKS, P3_YLABELS, step(73.5, 68.5, 14), 0, 5),
    xaxis4=axis(dom_x(85.5, 424.5), "y4", [0, 1019], P4_XTICKS, P4_XLABELS, P4_XMINOR, 8, 12),
    yaxis4=axis(dom_y(450.8, 790.2), "x4", [0, 1018], P4_YTICKS, P4_YLABELS, P4_YMINOR, 0, 5),
    xaxis5=axis(dom_x(518.2, 857.8), "y5", [0, 1019], P5_XTICKS, P5_XLABELS, P5_XMINOR, 10, 12),
    yaxis5=axis(dom_y(453.3, 792.6), "x5", [0, 1018], P5_YTICKS, P5_YLABELS, step(43.5, 38.7, 25), 0, 6),
)
fig.write_html("out.html", config={"displayModeBar": False},
               post_script="document.body.style.margin='0';document.body.style.overflow='hidden';")
